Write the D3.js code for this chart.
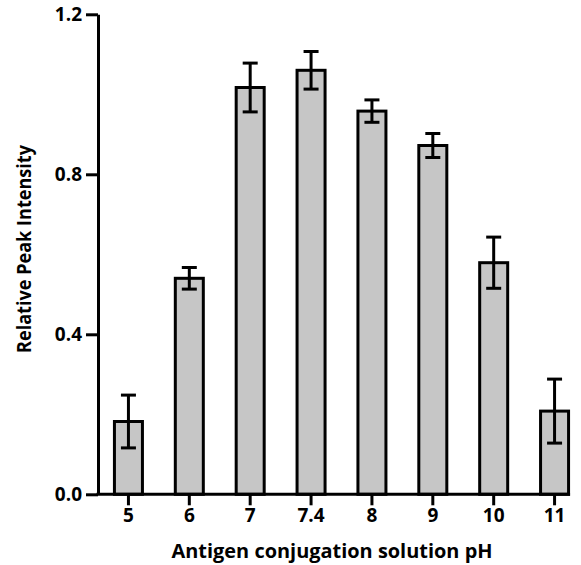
<html>
<head>
<script src="https://d3js.org/d3.v7.min.js"></script>
<style>
  body { margin: 0; background: #fff; }
  text { font-family: "Open Sans", sans-serif; font-weight: bold; fill: #000; }
</style>
</head>
<body>
<svg id="chart"></svg>
<script>
// data
var categories = ["5", "6", "7", "7.4", "8", "9", "10", "11"];
var means = [0.182, 0.540, 1.017, 1.060, 0.958, 0.872, 0.579, 0.208];
var errors = [0.066, 0.027, 0.061, 0.047, 0.028, 0.030, 0.064, 0.080];
var yTicks = [0, 0.4, 0.8, 1.2];

var width = 581, height = 565;
var plotLeft = 98, plotRight = 585, plotTop = 14.3, plotBottom = 494.3;

var svg = d3.select("#chart")
    .attr("width", width)
    .attr("height", height);

var xScale = d3.scaleBand()
    .domain(categories)
    .range([plotLeft, plotRight])
    .padding(0);

var yScale = d3.scaleLinear()
    .domain([0, 1.2])
    .range([plotBottom, plotTop]);

var bw = xScale.bandwidth();
var barW = bw * 0.46;

var data = categories.map(function(c, i) {
    return {cat: c, mean: means[i], err: errors[i]};
});

// bars
svg.append("g")
    .selectAll("rect")
    .data(data)
    .enter()
    .append("rect")
    .attr("x", function(d) { return xScale(d.cat) + bw / 2 - barW / 2; })
    .attr("y", function(d) { return yScale(d.mean); })
    .attr("width", barW)
    .attr("height", function(d) { return plotBottom - yScale(d.mean); })
    .attr("fill", "#c6c6c6")
    .attr("stroke", "#000")
    .attr("stroke-width", 3);

// error bars
var eb = svg.append("g")
    .attr("stroke", "#000")
    .attr("stroke-width", 3)
    .selectAll("g")
    .data(data)
    .enter()
    .append("g");

eb.append("line")
    .attr("x1", function(d) { return xScale(d.cat) + bw / 2; })
    .attr("x2", function(d) { return xScale(d.cat) + bw / 2; })
    .attr("y1", function(d) { return yScale(d.mean + d.err); })
    .attr("y2", function(d) { return yScale(d.mean - d.err); });

[1, -1].forEach(function(s) {
    eb.append("line")
        .attr("x1", function(d) { return xScale(d.cat) + bw / 2 - 7.5; })
        .attr("x2", function(d) { return xScale(d.cat) + bw / 2 + 7.5; })
        .attr("y1", function(d) { return yScale(d.mean + s * d.err); })
        .attr("y2", function(d) { return yScale(d.mean + s * d.err); });
});

// y axis
var yAxis = svg.append("g")
    .attr("transform", "translate(" + plotLeft + ",0)")
    .call(d3.axisLeft(yScale)
        .tickValues(yTicks)
        .tickFormat(d3.format(".1f"))
        .tickSize(12)
        .tickSizeOuter(0)
        .tickPadding(4));

yAxis.selectAll("path, line").attr("stroke", "#000").attr("stroke-width", 3);
yAxis.selectAll("text").style("font-size", "19px").attr("fill", "#000");

// x axis
var xAxis = svg.append("g")
    .attr("transform", "translate(0," + plotBottom + ")")
    .call(d3.axisBottom(xScale)
        .tickSize(11)
        .tickSizeOuter(0)
        .tickPadding(3));

xAxis.select(".domain").remove();
xAxis.selectAll("line").attr("stroke", "#000").attr("stroke-width", 3);
xAxis.selectAll("text").style("font-size", "19px").attr("fill", "#000");

var lastCat = categories[categories.length - 1];
svg.append("line")
    .attr("x1", plotLeft - 1.5)
    .attr("x2", xScale(lastCat) + bw / 2 + barW / 2 + 1.5)
    .attr("y1", plotBottom)
    .attr("y2", plotBottom)
    .attr("stroke", "#000")
    .attr("stroke-width", 3);

// axis titles
svg.append("text")
    .attr("x", 332)
    .attr("y", 558)
    .attr("text-anchor", "middle")
    .attr("textLength", 321)
    .attr("lengthAdjust", "spacingAndGlyphs")
    .style("font-size", "20px")
    .text("Antigen conjugation solution pH");

svg.append("text")
    .attr("transform", "translate(31,249) rotate(-90)")
    .attr("text-anchor", "middle")
    .attr("textLength", 208)
    .attr("lengthAdjust", "spacingAndGlyphs")
    .style("font-size", "20px")
    .text("Relative Peak Intensity");
</script>
</body>
</html>
